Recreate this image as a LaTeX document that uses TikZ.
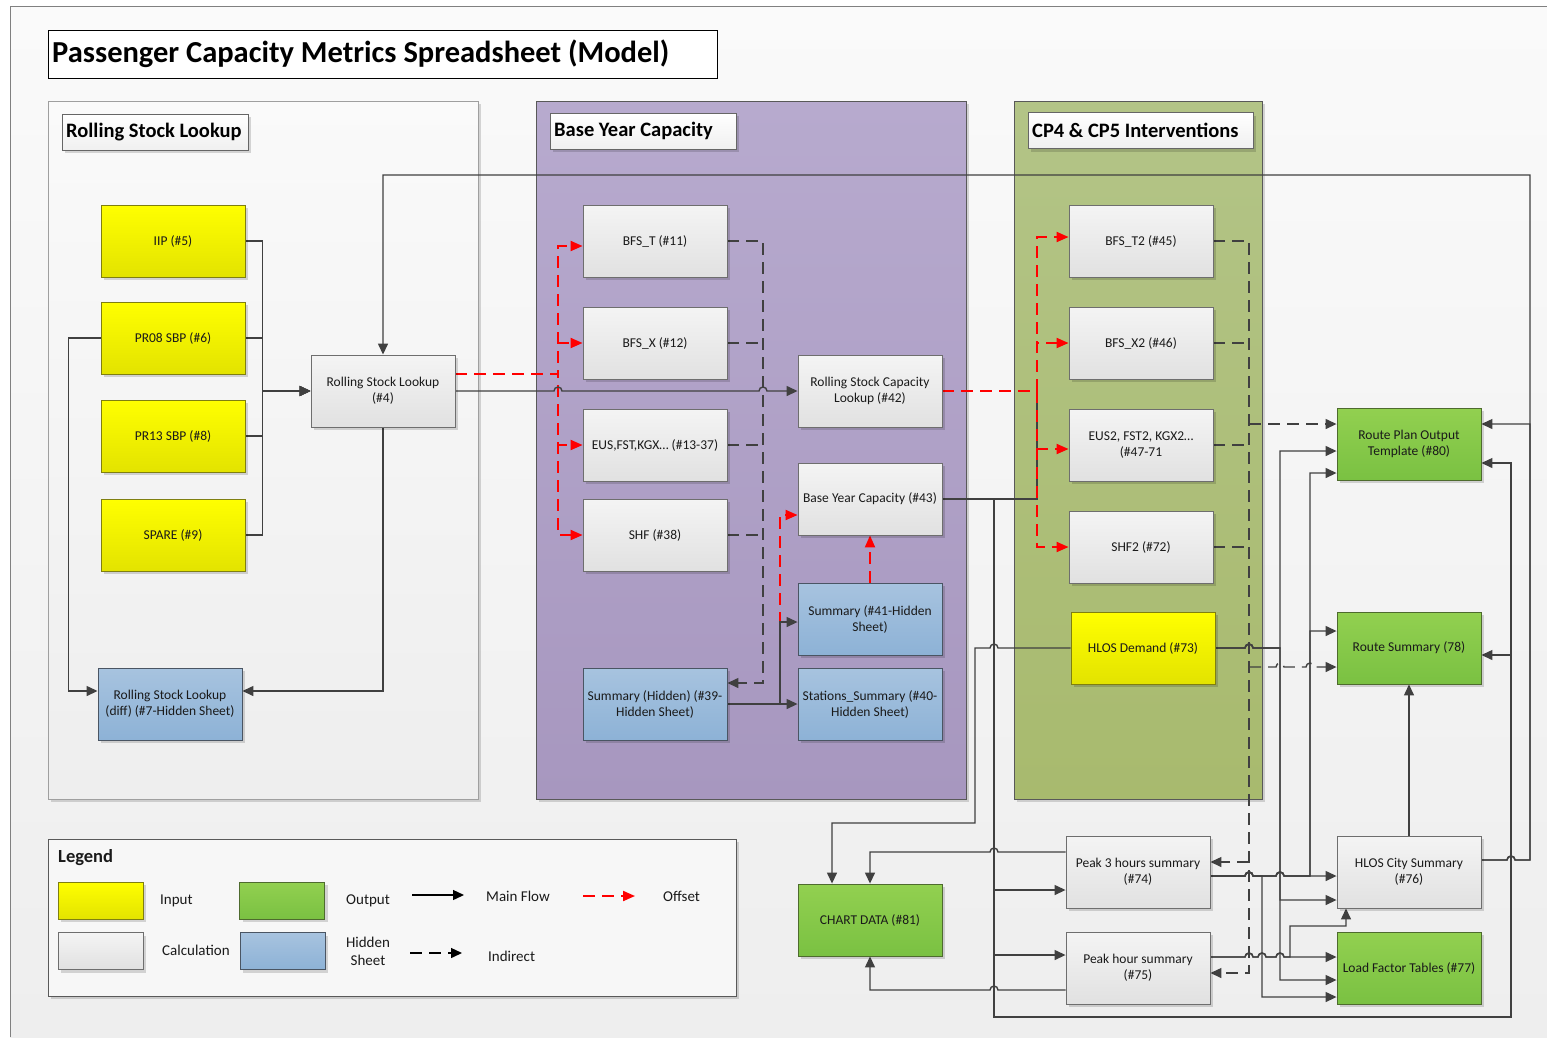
\documentclass[tikz,border=0pt]{standalone}
\usepackage{fontspec}
\setmainfont{Carlito}
\usetikzlibrary{arrows.meta,shadows}

\definecolor{lineclr}{HTML}{404040}
\definecolor{redclr}{HTML}{FF0000}
\definecolor{txtclr}{HTML}{1A1A1A}
\definecolor{inTop}{HTML}{FFFF00}
\definecolor{inBot}{HTML}{E3E300}
\definecolor{inBrd}{HTML}{7F7F10}
\definecolor{outTop}{HTML}{92D050}
\definecolor{outBot}{HTML}{7AC142}
\definecolor{outBrd}{HTML}{4E6B2E}
\definecolor{calcTop}{HTML}{F4F4F4}
\definecolor{calcBot}{HTML}{E1E1E1}
\definecolor{calcBrd}{HTML}{6E6E6E}
\definecolor{hidTop}{HTML}{A7C3DF}
\definecolor{hidBot}{HTML}{8DB2D6}
\definecolor{hidBrd}{HTML}{4A5563}
\definecolor{purTop}{HTML}{B7AACE}
\definecolor{purBot}{HTML}{A797BF}
\definecolor{grnTop}{HTML}{B3C487}
\definecolor{grnBot}{HTML}{A8BA6E}
\definecolor{pnlBrd}{HTML}{595959}
\definecolor{bgTop}{HTML}{FAFAFA}
\definecolor{bgBot}{HTML}{EEEEEE}

\pgfdeclarelayer{back}
\pgfdeclarelayer{wires}
\pgfsetlayers{back,wires,main}

\begin{document}
\begin{tikzpicture}[x=1pt,y=-1pt,
  shade/.style={drop shadow={shadow xshift=3pt,shadow yshift=-3pt,opacity=0.15,fill=black}},
  box/.style={rectangle,minimum width=144pt,minimum height=72pt,inner sep=2pt,
    align=center,line width=0.9pt,text=txtclr,font=\fontsize{13.5}{16}\selectfont,shade},
  inbox/.style={box,draw=inBrd,top color=inTop,bottom color=inBot},
  outbox/.style={box,draw=outBrd,top color=outTop,bottom color=outBot},
  calcbox/.style={box,draw=calcBrd,top color=calcTop,bottom color=calcBot},
  hidbox/.style={box,draw=hidBrd,top color=hidTop,bottom color=hidBot},
  panel/.style={rectangle,inner sep=0pt,line width=1pt,minimum height=698pt,shade},
  hdr/.style={rectangle,draw=gray!80!black,line width=0.8pt,top color=white,bottom color=gray!12,
    minimum height=36pt,inner sep=0pt,shade},
  hdrtxt/.style={anchor=west,inner sep=0pt,font=\bfseries\fontsize{20.5}{24}\selectfont},
  legtxt/.style={text=txtclr,font=\fontsize{15}{18}\selectfont,inner sep=0pt},
  swatch/.style={rectangle,minimum width=85pt,minimum height=37pt,line width=0.9pt,shade},
  flow/.style={draw=lineclr,line width=1.4pt,-{Triangle[length=11pt,width=10pt]}},
  plain/.style={draw=lineclr,line width=1.4pt},
  indirect/.style={draw=lineclr,line width=1.4pt,dash pattern=on 12pt off 7pt,-{Triangle[length=11pt,width=10pt]}},
  indplain/.style={draw=lineclr,line width=1.4pt,dash pattern=on 12pt off 7pt},
  offset/.style={draw=redclr,line width=2pt,dash pattern=on 12pt off 7pt,-{Triangle[length=12pt,width=10pt]}}
]
\useasboundingbox (0,0) rectangle (1547,1037);

\begin{pgfonlayer}{back}
% page background and frame
\fill[white] (0,0) rectangle (1547,1037);
\shade[top color=bgTop,bottom color=bgBot] (10,6) rectangle (1547,1037);
\draw[gray,line width=1pt] (1547,6) -- (10,6) -- (10,1037);

% title
\node[rectangle,draw=black,line width=1pt,fill=white,minimum width=669pt,minimum height=48pt,inner sep=0pt]
  (titlebox) at (382.5,54) {};
\node[anchor=west,inner sep=0pt,font=\bfseries\fontsize{30.5}{34}\selectfont] (title) at (52,54)
  {Passenger Capacity Metrics Spreadsheet (Model)};

% containers
\node[panel,draw=gray!75,top color=white!98!black,bottom color=bgBot,minimum width=430pt] (pnlA) at (263,450) {};
\node[panel,draw=pnlBrd,top color=purTop,bottom color=purBot,minimum width=430pt] (pnlB) at (751,450) {};
\node[panel,draw=pnlBrd,top color=grnTop,bottom color=grnBot,minimum width=248pt] (pnlC) at (1138,450) {};

\node[hdr,minimum width=186pt] (hdrA) at (155,132) {};
\node[hdrtxt] (hdrAt) at (66,132) {Rolling Stock Lookup};
\node[hdr,minimum width=186pt] (hdrB) at (643,131) {};
\node[hdrtxt] (hdrBt) at (554,131) {Base Year Capacity};
\node[hdr,minimum width=225pt] (hdrC) at (1140.5,130.5) {};
\node[hdrtxt] (hdrCt) at (1032,130.5) {CP4 \& CP5 Interventions};

% legend frame
\node[rectangle,draw=gray!70!black,line width=0.9pt,fill=white!97!black,minimum width=688pt,
  minimum height=157pt,shade] (legend) at (392,917.5) {};
\end{pgfonlayer}

% ---------------- sheets ----------------
% rolling stock lookup
\node[inbox] (iip)   at (173,241) {IIP (\#5)};
\node[inbox] (pr08)  at (173,338) {PR08 SBP (\#6)};
\node[inbox] (pr13)  at (173,436) {PR13 SBP (\#8)};
\node[inbox] (spare) at (173,535) {SPARE (\#9)};
\node[calcbox] (rsl4) at (383,391) {Rolling Stock Lookup\\(\#4)};
\node[hidbox] (rsl7) at (170,704) {Rolling Stock Lookup\\(diff) (\#7-Hidden Sheet)};

% base year capacity
\node[calcbox] (bfst) at (655,241) {BFS\_T (\#11)};
\node[calcbox] (bfsx) at (655,343) {BFS\_X (\#12)};
\node[calcbox] (eus)  at (655,445) {EUS,FST,KGX… (\#13-37)};
\node[calcbox] (shf)  at (655,535) {SHF (\#38)};
\node[hidbox] (sum39) at (655,704) {Summary (Hidden) (\#39-\\Hidden Sheet)};
\node[calcbox] (rscl) at (870,391) {Rolling Stock Capacity\\Lookup (\#42)};
\node[calcbox] (byc)  at (870,499) {Base Year Capacity (\#43)};
\node[hidbox] (sum41) at (870,619) {Summary (\#41-Hidden\\Sheet)};
\node[hidbox] (st40)  at (870,704) {Stations\_Summary (\#40-\\Hidden Sheet)};

% interventions
\node[calcbox] (bfst2) at (1141,241) {BFS\_T2 (\#45)};
\node[calcbox] (bfsx2) at (1141,343) {BFS\_X2 (\#46)};
\node[calcbox] (eus2)  at (1141,445) {EUS2, FST2, KGX2…\\(\#47-71};
\node[calcbox] (shf2)  at (1141,547) {SHF2 (\#72)};
\node[inbox] (hlosd)   at (1143,648) {HLOS Demand (\#73)};

% outputs and summaries
\node[outbox] (rpo)   at (1409,444) {Route Plan Output\\Template (\#80)};
\node[outbox] (rs)    at (1409,648) {Route Summary (78)};
\node[calcbox] (hcs)  at (1409,872) {HLOS City Summary\\(\#76)};
\node[outbox] (lft)   at (1409,968) {Load Factor Tables (\#77)};
\node[calcbox] (p3)   at (1138,872) {Peak 3 hours summary\\(\#74)};
\node[calcbox] (ph)   at (1138,968) {Peak hour summary\\(\#75)};
\node[outbox] (chart) at (870,920) {CHART DATA (\#81)};

% ---------------- legend ----------------
\node[text=txtclr,font=\bfseries\fontsize{18.5}{22}\selectfont,anchor=west,inner sep=0pt] (legT) at (58,858) {Legend};
\node[swatch,draw=inBrd,top color=inTop,bottom color=inBot] (swIn) at (100.5,900.5) {};
\node[swatch,draw=calcBrd,top color=calcTop,bottom color=calcBot] (swCalc) at (100.5,951) {};
\node[swatch,draw=outBrd,top color=outTop,bottom color=outBot] (swOut) at (282,900.5) {};
\node[swatch,draw=hidBrd,top color=hidTop,bottom color=hidBot] (swHid) at (282.5,951) {};
\node[legtxt,anchor=west] (lIn) at (160,901) {Input};
\node[legtxt,anchor=west] (lCalc) at (162,950) {Calculation};
\node[legtxt,anchor=west] (lOut) at (346,901) {Output};
\node[legtxt,align=center] (lHid) at (368,951) {Hidden\\Sheet};
\node[legtxt,anchor=west] (lMain) at (486,896) {Main Flow};
\node[legtxt,anchor=west] (lOff) at (663,896) {Offset};
\node[legtxt,anchor=west] (lInd) at (488,956) {Indirect};
\coordinate (mfA) at (412,895);  \coordinate (mfB) at (464,895);
\coordinate (ofA) at (583,896);  \coordinate (ofB) at (635,896);
\coordinate (inA) at (410,953);  \coordinate (inB) at (462,953);

% ---------------- connectors ----------------
\begin{pgfonlayer}{wires}
% legend samples
\draw[flow,draw=black] (mfA) -- (mfB);
\draw[offset] (ofA) -- (ofB);
\draw[indirect,draw=black] (inA) -- (inB);

% inputs into the rolling stock lookup
\draw[flow] (iip.east)   -- ++(17,0) |- (rsl4.west);
\draw[flow] (pr08.east)  -- ++(17,0) |- (rsl4.west);
\draw[flow] (pr13.east)  -- ++(17,0) |- (rsl4.west);
\draw[flow] (spare.east) -- ++(17,0) |- (rsl4.west);
\draw[flow] (pr08.west) -- ++(-32,0) |- ([yshift=13pt]rsl7.west);
\draw[flow] (rsl4.south) |- ([yshift=13pt]rsl7.east);

% feedback from the city summary
\draw[flow] ([yshift=12pt]hcs.east) -- (1507,860) arc[start angle=180,end angle=0,radius=4pt]
  -- (1530,860) -- (1530,175) -| (rsl4.north);
\draw[flow] ([yshift=12pt]hcs.east) -- (1507,860) arc[start angle=180,end angle=0,radius=4pt]
  -- (1530,860) |- ([yshift=20pt]rpo.east);

% base year capacity flow
\draw[offset] ([yshift=17pt]rsl4.east) -- (558,374) |- ([yshift=-5pt]bfst.west);
\draw[offset] ([yshift=17pt]rsl4.east) -- (558,374) |- (bfsx.west);
\draw[offset] ([yshift=17pt]rsl4.east) -- (558,374) |- (eus.west);
\draw[offset] ([yshift=17pt]rsl4.east) -- (558,374) |- (shf.west);
\draw[flow] (rsl4.east) -- (554,391) arc[start angle=180,end angle=0,radius=4pt]
  -- (759,391) arc[start angle=180,end angle=0,radius=4pt] -- (rscl.west);

\draw[indirect] (bfst.east) -- (763,241) |- ([yshift=21pt]sum39.east);
\draw[indplain] (bfsx.east) -- (763,343);
\draw[indplain] (eus.east) -- (763,445);
\draw[indplain] (shf.east) -- (763,535);

\draw[offset] (sum39.east) -- (780,704) |- ([yshift=-16pt]byc.west);
\draw[flow] (sum39.east) -- (st40.west);
\draw[flow] (sum39.east) -- (780,704) |- ([yshift=-3pt]sum41.west);
\draw[offset] (sum41.north) -- (byc.south);

% interventions flow
\draw[plain] (byc.east) -- (1037,499) -- (1037,391);
\draw[offset] (rscl.east) -- (1037,391) |- ([yshift=4pt]bfst2.west);
\draw[offset] (rscl.east) -- (1037,391) |- (bfsx2.west);
\draw[offset] (rscl.east) -- (1037,391) |- ([yshift=-4pt]eus2.west);
\draw[offset] (rscl.east) -- (1037,391) |- (shf2.west);

% base year capacity to the summaries
\draw[flow] (byc.east) -- (994,499) |- ([yshift=-18pt]p3.west);
\draw[flow] (byc.east) -- (994,499) |- ([yshift=13pt]ph.west);
\draw[flow] (byc.east) -- (994,499) -- (994,1017) -- (1511,1017) |- ([yshift=-19pt]rpo.east);
\draw[flow] (byc.east) -- (994,499) -- (994,1017) -- (1511,1017) |- ([yshift=-7pt]rs.east);

% chart data
\draw[flow] (hlosd.west) -- (998,648) arc[start angle=0,end angle=180,radius=4pt]
  -- (975,648) -- (975,823) -| ([xshift=-38pt]chart.north);
\draw[flow] ([yshift=20pt]p3.west) -- (998,852) arc[start angle=0,end angle=180,radius=4pt]
  -| (chart.north);
\draw[flow] ([yshift=-22pt]ph.west) -- (998,990) arc[start angle=0,end angle=180,radius=4pt]
  -| (chart.south);

% indirect links from the intervention sheets
\draw[indirect] (bfst2.east) -- (1249,241) |- ([yshift=-5pt]ph.east);
\draw[indplain] (bfsx2.east) -- (1249,343);
\draw[indplain] (eus2.east) -- (1249,445);
\draw[indplain] (shf2.east) -- (1249,547);
\draw[indirect] (1249,424) -- ([yshift=20pt]rpo.west);
\draw[indirect] (1249,862) -- ([yshift=10pt]p3.east);
\draw[indirect] (1249,667) -- (1276,667) arc[start angle=180,end angle=0,radius=4pt]
  -- (1306,667) arc[start angle=180,end angle=0,radius=4pt] -- ([yshift=-19pt]rs.west);

% HLOS demand
\draw[flow] (hlosd.east) -- (1245,648) arc[start angle=180,end angle=0,radius=4pt]
  -- (1280,648) |- ([yshift=-7pt]rpo.west);
\draw[flow] (hlosd.east) -- (1245,648) arc[start angle=180,end angle=0,radius=4pt]
  -- (1280,648) |- ([yshift=-28pt]hcs.west);
\draw[flow] (hlosd.east) -- (1245,648) arc[start angle=180,end angle=0,radius=4pt]
  -- (1280,648) |- ([yshift=-12pt]lft.west);

% peak 3 hours summary
\draw[flow] ([yshift=-4pt]p3.east) -- (1245,876) arc[start angle=180,end angle=0,radius=4pt]
  -- (1276,876) arc[start angle=180,end angle=0,radius=4pt] -- ([yshift=-4pt]hcs.west);
\draw[flow] ([yshift=-4pt]p3.east) -- (1245,876) arc[start angle=180,end angle=0,radius=4pt]
  -- (1262,876) |- ([yshift=-29pt]lft.west);
\draw[flow] ([yshift=-4pt]p3.east) -- (1245,876) arc[start angle=180,end angle=0,radius=4pt]
  -- (1276,876) arc[start angle=180,end angle=0,radius=4pt] -- (1310,876) |- ([yshift=-29pt]rpo.west);
\draw[flow] ([yshift=-4pt]p3.east) -- (1245,876) arc[start angle=180,end angle=0,radius=4pt]
  -- (1276,876) arc[start angle=180,end angle=0,radius=4pt] -- (1310,876) |- ([yshift=17pt]rs.west);

% peak hour summary
\draw[flow] ([yshift=11pt]ph.east) -- (1245,957) arc[start angle=180,end angle=0,radius=4pt]
  -- (1258,957) arc[start angle=180,end angle=0,radius=4pt]
  -- (1276,957) arc[start angle=180,end angle=0,radius=4pt] -- ([yshift=11pt]lft.west);
\draw[flow] ([yshift=11pt]ph.east) -- (1245,957) arc[start angle=180,end angle=0,radius=4pt]
  -- (1258,957) arc[start angle=180,end angle=0,radius=4pt]
  -- (1276,957) arc[start angle=180,end angle=0,radius=4pt]
  -- (1290,957) -- (1290,926) -| ([xshift=-63pt]hcs.south);

% city summary to route summary
\draw[flow] (hcs.north) -- (rs.south);
\end{pgfonlayer}
\end{tikzpicture}
\end{document}
